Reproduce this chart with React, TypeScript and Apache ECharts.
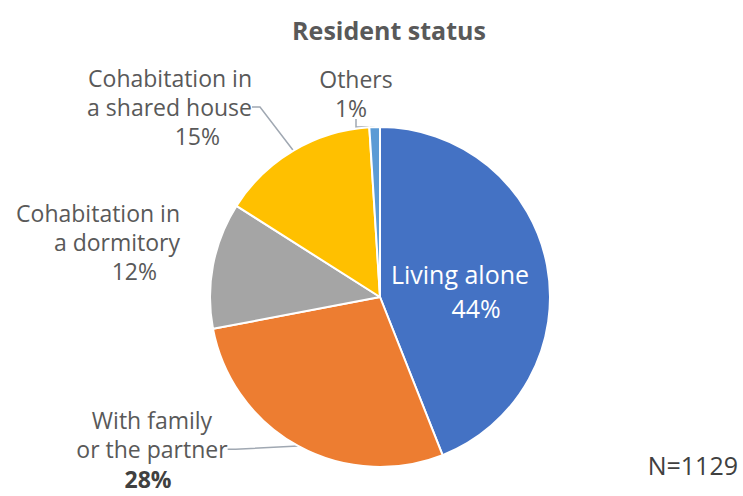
import React, { useEffect, useRef } from "react";
import * as echarts from "echarts";

const title = "Resident status";
const categories = [
  "Living alone",
  "With family\nor the partner",
  "Cohabitation in\na dormitory",
  "Cohabitation in\na shared house",
  "Others",
];
const values = [44, 28, 12, 15, 1];
const sampleNote = "N=1129";

const colors = ["#4472C4", "#ED7D31", "#A5A5A5", "#FFC000", "#5B9BD5"];
const FONT = "'Open Sans', 'Noto Sans', sans-serif";

// label layout: anchor x, block center y, alignment
const labelPos = [
  { x: 460, y: 291, align: "center" },
  { x: 152, y: 448.5, align: "center" },
  { x: 180, y: 242, align: "right" },
  { x: 252, y: 107, align: "right" },
  { x: 356, y: 93, align: "center" },
];

export default function App() {
  const ref = useRef<HTMLDivElement>(null);
  useEffect(() => {
    document.body.style.margin = "0";
    const chart = echarts.init(ref.current!, null, { renderer: "svg" });
    const txt = { fontSize: 23, color: "#595959", fontFamily: FONT };
    const option: any = {
      animation: false,
      backgroundColor: "#ffffff",
      title: {
        text: title,
        left: 384,
        top: 12,
        textAlign: "center",
        textStyle: { fontSize: 25, fontWeight: "bold", color: "#595959", fontFamily: FONT },
      },
      graphic: [
        {
          type: "text",
          right: 5,
          top: 452,
          style: { text: sampleNote, fontSize: 25, fill: "#404040", fontFamily: FONT },
        },
      ],
      series: [
        {
          type: "pie",
          center: [380, 297],
          radius: 170,
          startAngle: 90,
          clockwise: true,
          avoidLabelOverlap: false,
          itemStyle: { borderColor: "#ffffff", borderWidth: 2 },
          label: {
            show: true,
            position: "outside",
            formatter: (p: any) => {
              const i = p.dataIndex;
              const lines = String(p.name)
                .split("\n")
                .map((s: string) => `{t${i}|${s}}`)
                .join("\n");
              return `${lines}\n{p${i}|${p.value}%}`;
            },
            rich: {
              t0: { ...txt, fontSize: 25, color: "#ffffff", lineHeight: 34 },
              p0: { ...txt, fontSize: 25, color: "#ffffff", lineHeight: 34, padding: [0, 0, 0, 32] },
              t1: { ...txt, lineHeight: 29 },
              p1: { ...txt, lineHeight: 29, padding: [3, 8, 0, 0], fontWeight: "bold", color: "#404040" },
              t2: { ...txt, lineHeight: 29, align: "right" },
              p2: { ...txt, lineHeight: 29, align: "right", padding: [0, 23, 0, 0] },
              t3: { ...txt, lineHeight: 29, align: "right" },
              p3: { ...txt, lineHeight: 29, align: "right", padding: [0, 32, 0, 0] },
              t4: { ...txt, lineHeight: 29 },
              p4: { ...txt, lineHeight: 29, padding: [0, 10, 0, 0] },
            },
          },
          labelLine: {
            show: true,
            length: 0,
            length2: 8,
            smooth: false,
            lineStyle: { color: "#A0A8B2", width: 1.5 },
          },
          labelLayout: (params: any) => {
            const lp = labelPos[params.dataIndex];
            return { x: lp.x, y: lp.y, align: lp.align, verticalAlign: "middle" };
          },
          data: categories.map((name, i) => ({
            name,
            value: values[i],
            itemStyle: { color: colors[i] },
            labelLine: i === 0 || i === 2 ? { show: false } : undefined,
          })),
        },
      ],
    };
    chart.setOption(option);
    return () => chart.dispose();
  }, []);
  return <div ref={ref} style={{ width: 743, height: 496 }} />;
}
